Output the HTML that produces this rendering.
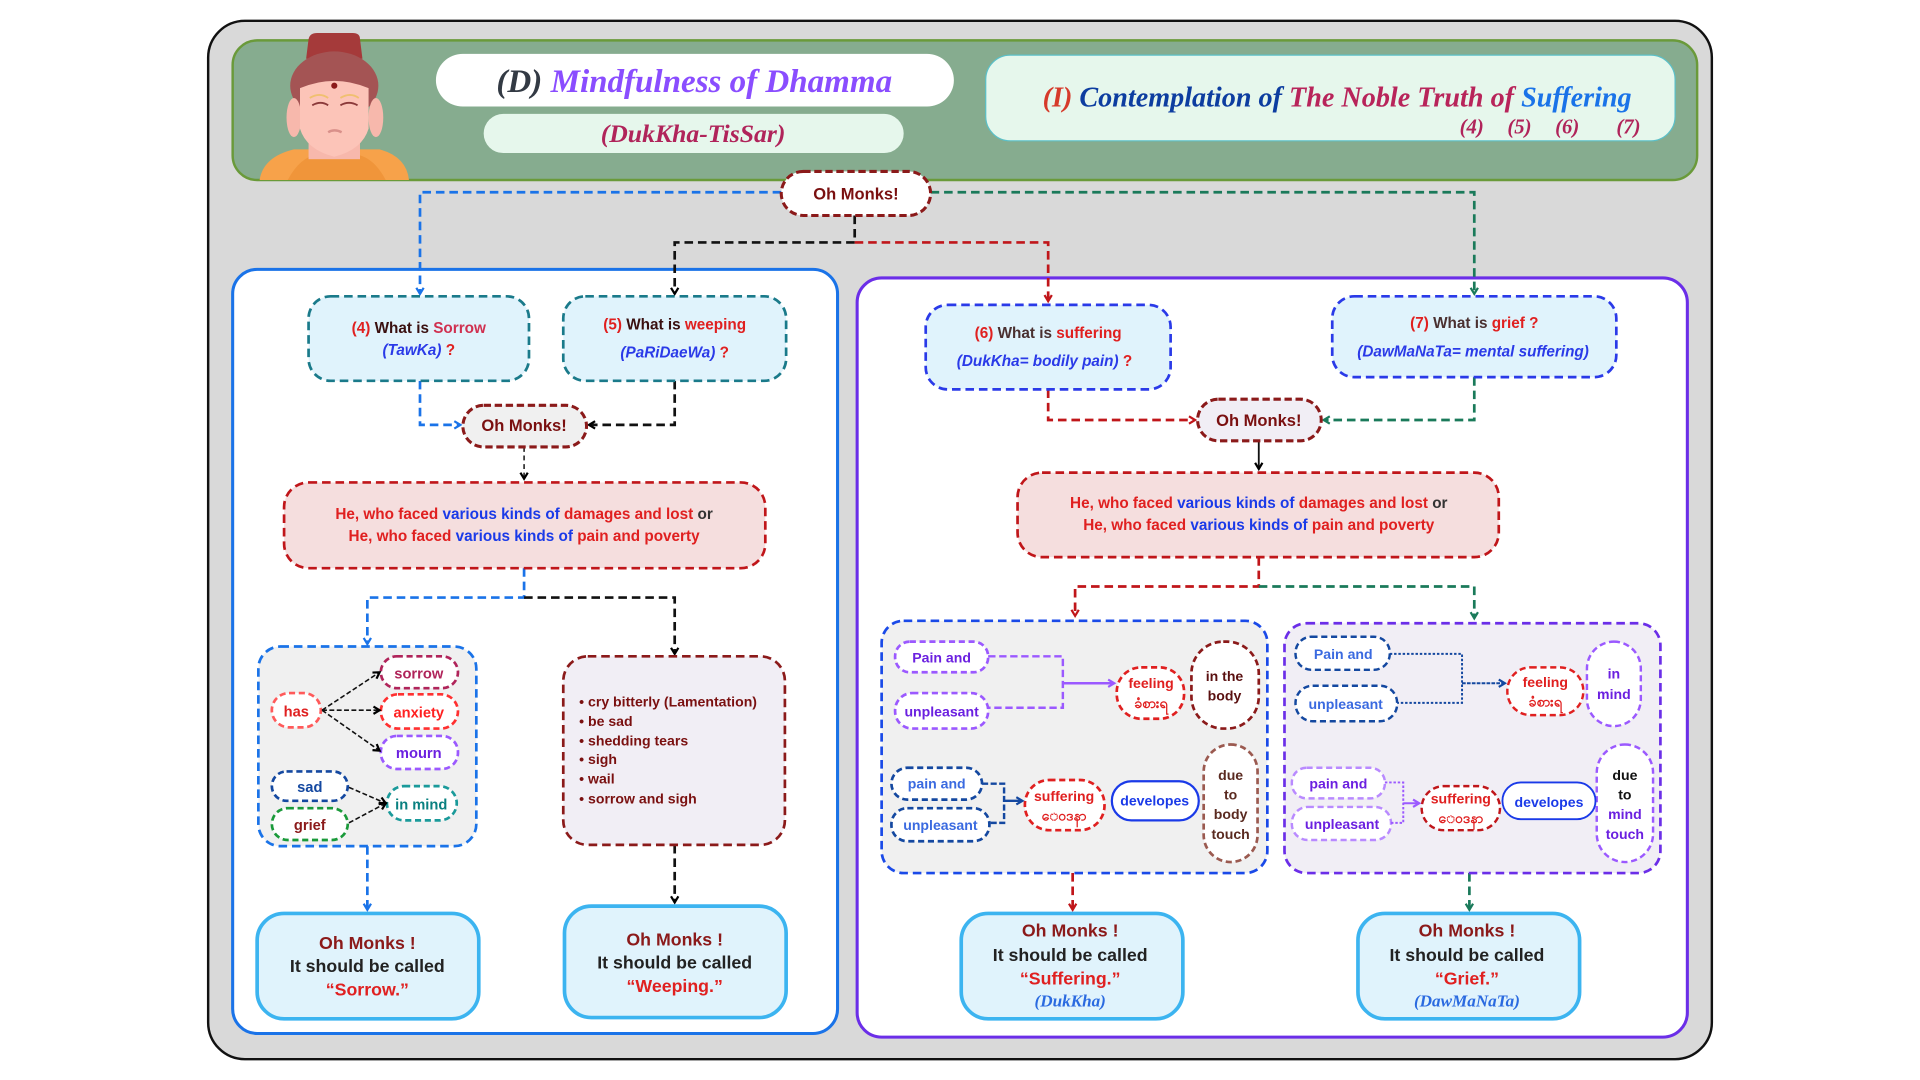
<!DOCTYPE html>
<html><head><meta charset="utf-8"><style>
html,body{margin:0;padding:0;background:#fff;width:1920px;height:1080px;overflow:hidden}
svg{display:block}
text{font-family:"Liberation Sans",sans-serif;font-weight:bold}
.s{font-family:"Liberation Serif",serif;font-style:italic;font-weight:bold}
</style></head><body>
<svg width="1920" height="1080" viewBox="0 0 1568 882" xmlns="http://www.w3.org/2000/svg">
<defs>
<marker id="ab" markerWidth="8" markerHeight="8" refX="6" refY="4" orient="auto" markerUnits="userSpaceOnUse"><path d="M1,1 L6,4 L1,7" fill="none" stroke="#1a73e8" stroke-width="1.8"/></marker>
<marker id="ak" markerWidth="8" markerHeight="8" refX="6" refY="4" orient="auto" markerUnits="userSpaceOnUse"><path d="M1,1 L6,4 L1,7" fill="none" stroke="#000" stroke-width="1.8"/></marker>
<marker id="ar" markerWidth="8" markerHeight="8" refX="6" refY="4" orient="auto" markerUnits="userSpaceOnUse"><path d="M1,1 L6,4 L1,7" fill="none" stroke="#c0161a" stroke-width="1.8"/></marker>
<marker id="ag" markerWidth="8" markerHeight="8" refX="6" refY="4" orient="auto" markerUnits="userSpaceOnUse"><path d="M1,1 L6,4 L1,7" fill="none" stroke="#1a7a5a" stroke-width="1.8"/></marker>
<marker id="ap" markerWidth="8" markerHeight="8" refX="6" refY="4" orient="auto" markerUnits="userSpaceOnUse"><path d="M1,1 L6,4 L1,7" fill="none" stroke="#9b59ff" stroke-width="1.8"/></marker>
<marker id="ad" markerWidth="8" markerHeight="8" refX="6" refY="4" orient="auto" markerUnits="userSpaceOnUse"><path d="M1,1 L6,4 L1,7" fill="none" stroke="#1448a0" stroke-width="1.8"/></marker>
</defs>
<rect x="170" y="17" width="1228" height="848" rx="30" fill="#d9d9d9" stroke="#111" stroke-width="2"/>
<rect x="190" y="33" width="1196" height="114" rx="20" fill="#86ac8f" stroke="#6a9a3a" stroke-width="2"/>
<!-- buddha -->
<path d="M212,147 Q215,128 240,122 L310,122 Q332,128 334,147 Z" fill="#f7a24a"/>
<path d="M235,147 Q245,128 260,126 L290,126 Q305,128 315,147 Z" fill="#f0953a"/>
<path d="M252,32 Q253,27 259,27 L288,27 Q294,27 294,32 L296,48 L250,48 Z" fill="#a53a3a"/>
<ellipse cx="273" cy="70" rx="36" ry="28" fill="#a45454"/>
<rect x="252" y="100" width="42" height="30" fill="#f7b8ac"/>
<ellipse cx="240" cy="96" rx="6" ry="16" fill="#f7b8ac"/>
<ellipse cx="307" cy="96" rx="6" ry="16" fill="#f7b8ac"/>
<path d="M245,72 Q273,60 301,72 L301,105 Q296,122 273,128 Q250,122 245,105 Z" fill="#fcc4b8"/>
<circle cx="273" cy="70" r="2.5" fill="#8b1a1a"/>
<path d="M255,86 Q262,82 268,86 M278,86 Q285,82 292,86" stroke="#8b3a3a" stroke-width="1.5" fill="none"/>
<path d="M253,80 Q261,75 268,80 M278,80 Q286,75 293,80" stroke="#f0c070" stroke-width="1.5" fill="none"/>
<path d="M268,108 Q273,105 279,108" stroke="#d9908a" stroke-width="2" fill="none"/>
<!-- titles -->
<rect x="356" y="44" width="423" height="43" rx="22" fill="#fff"/>
<text x="567" y="75" text-anchor="middle" class="s" font-size="27"><tspan fill="#333a44">(D) </tspan><tspan fill="#8a4dff">Mindfulness of Dhamma</tspan></text>
<rect x="395" y="93" width="343" height="32" rx="16" fill="#e6f7ec"/>
<text x="566" y="116" text-anchor="middle" class="s" font-size="21" fill="#b0245a">(DukKha-TisSar)</text>
<rect x="805" y="45" width="563" height="70" rx="20" fill="#e6f7ec" stroke="#5bc0c8" stroke-width="1"/>
<text x="1092" y="87" text-anchor="middle" class="s" font-size="23"><tspan fill="#d63a2a">(I) </tspan><tspan fill="#0d3da0">Contemplation of </tspan><tspan fill="#b8245a">The Noble Truth of </tspan><tspan fill="#1a73e8">Suffering</tspan></text>
<g class="s" font-size="17" fill="#b0245a">
<text x="1192" y="109" class="s">(4)</text><text x="1231" y="109" class="s">(5)</text><text x="1270" y="109" class="s">(6)</text><text x="1320" y="109" class="s">(7)</text>
</g>
<!-- panels -->
<rect x="190" y="220" width="494" height="624" rx="20" fill="#fff" stroke="#1a73e8" stroke-width="2.5"/>
<rect x="700" y="227" width="678" height="620" rx="20" fill="#fff" stroke="#6b2ee8" stroke-width="2.5"/>
<!-- top connectors -->
<g fill="none" stroke-width="2.2" stroke-dasharray="7,4">
<path d="M638,157 H343 V240" stroke="#1a73e8" marker-end="url(#ab)"/>
<path d="M760,157 H1204 V240" stroke="#1a7a5a" marker-end="url(#ag)"/>
<path d="M698,176 V198 H551 V240" stroke="#111" marker-end="url(#ak)"/>
<path d="M698,198 H856 V246" stroke="#c0161a" marker-end="url(#ar)"/>
<path d="M343,311 V347 H376" stroke="#1a73e8" marker-end="url(#ab)"/>
<path d="M551,311 V347 H481" stroke="#111" marker-end="url(#ak)"/>
<path d="M856,318 V343 H976" stroke="#c0161a" marker-end="url(#ar)"/>
<path d="M1204,308 V343 H1081" stroke="#1a7a5a" marker-end="url(#ag)"/>
<path d="M428,464 V488 H300 V526" stroke="#1a73e8" marker-end="url(#ab)"/>
<path d="M428,488 H551 V534" stroke="#111" marker-end="url(#ak)"/>
<path d="M1028,455 V479 H878 V503" stroke="#c0161a" marker-end="url(#ar)"/>
<path d="M1028,479 H1204 V505" stroke="#1a7a5a" marker-end="url(#ag)"/>
<path d="M300,691 V743" stroke="#1a73e8" marker-end="url(#ab)"/>
<path d="M551,690 V737" stroke="#111" marker-end="url(#ak)"/>
<path d="M876,713 V743" stroke="#c0161a" marker-end="url(#ar)"/>
<path d="M1200,713 V743" stroke="#1a7a5a" marker-end="url(#ag)"/>
</g>
<path d="M428,365 V391" stroke="#111" stroke-width="1.2" stroke-dasharray="4,3" marker-end="url(#ak)"/>
<path d="M1028,360 V383" stroke="#111" stroke-width="1.5" marker-end="url(#ak)"/>
<!-- oh monks -->
<g stroke="#8b1a1a" stroke-width="2.5" stroke-dasharray="6,3">
<rect x="638" y="140" width="122" height="36" rx="18" fill="#fff"/>
<rect x="378" y="331" width="101" height="34" rx="17" fill="#f0f0f0"/>
<rect x="978" y="326" width="101" height="34" rx="17" fill="#f1eef5"/>
</g>
<g font-size="13.5" fill="#7a1010" text-anchor="middle">
<text x="699" y="163">Oh Monks!</text><text x="428" y="352">Oh Monks!</text><text x="1028" y="348">Oh Monks!</text>
</g>
<!-- question boxes -->
<g stroke-width="2.2" stroke-dasharray="7,4" fill="#e0f3fc">
<rect x="252" y="242" width="180" height="69" rx="18" stroke="#1a7a8a"/>
<rect x="460" y="242" width="182" height="69" rx="18" stroke="#1a7a8a"/>
<rect x="756" y="249" width="200" height="69" rx="18" stroke="#2a3ae8"/>
<rect x="1088" y="242" width="232" height="66" rx="18" stroke="#2a3ae8"/>
</g>
<g font-size="12.5" text-anchor="middle">
<text x="342" y="272"><tspan fill="#e02020">(4)  </tspan><tspan fill="#3a1010">What is </tspan><tspan fill="#d03050">Sorrow</tspan></text>
<text x="342" y="290" fill="#2a3ae8" font-style="italic">(TawKa) <tspan fill="#e02020" font-style="normal">?</tspan></text>
<text x="551" y="269"><tspan fill="#e02020">(5)  </tspan><tspan fill="#3a1010">What is </tspan><tspan fill="#e02020">weeping</tspan></text>
<text x="551" y="292" fill="#2a3ae8" font-style="italic">(PaRiDaeWa) <tspan fill="#e02020" font-style="normal">?</tspan></text>
<text x="856" y="276"><tspan fill="#e02020">(6)  </tspan><tspan fill="#4a3030">What is </tspan><tspan fill="#e02020">suffering</tspan></text>
<text x="853" y="299" fill="#2a3ae8" font-style="italic">(DukKha= bodily pain) <tspan fill="#e02020" font-style="normal">?</tspan></text>
<text x="1204" y="268"><tspan fill="#e02020">(7)  </tspan><tspan fill="#4a3030">What is </tspan><tspan fill="#e02020">grief ?</tspan></text>
<text x="1203" y="291" fill="#2a3ae8" font-style="italic">(DawMaNaTa= mental suffering)</text>
</g>
<!-- pink -->
<g stroke="#c0161a" stroke-width="2.2" stroke-dasharray="7,4" fill="#f5dede">
<rect x="232" y="394" width="393" height="70" rx="20"/>
<rect x="831" y="386" width="393" height="69" rx="20"/>
</g>
<g font-size="12.5" text-anchor="middle" fill="#e02020">
<text x="428" y="424">He, who faced <tspan fill="#1a3ae8">various kinds of</tspan> damages and lost  <tspan fill="#333">or</tspan></text>
<text x="428" y="442">He, who  faced <tspan fill="#1a3ae8">various kinds of</tspan> pain and poverty</text>
<text x="1028" y="415">He, who faced <tspan fill="#1a3ae8">various kinds of</tspan> damages and lost  <tspan fill="#333">or</tspan></text>
<text x="1028" y="433">He, who  faced <tspan fill="#1a3ae8">various kinds of</tspan> pain and poverty</text>
</g>
<!-- group L1 -->
<rect x="211" y="528" width="178" height="163" rx="18" fill="#f0f0f0" stroke="#1a73e8" stroke-width="2.2" stroke-dasharray="7,4"/>
<g fill="#fff" stroke-width="2.2" stroke-dasharray="5,3">
<rect x="222" y="566" width="40" height="28" rx="14" stroke="#ff5a5a"/>
<rect x="311" y="536" width="63" height="26" rx="13" stroke="#b0245a"/>
<rect x="311" y="567" width="63" height="28" rx="14" stroke="#ff3030"/>
<rect x="311" y="601" width="63" height="27" rx="13" stroke="#9b59ff"/>
<rect x="222" y="630" width="62" height="24" rx="12" stroke="#1448a0"/>
<rect x="222" y="660" width="62" height="26" rx="13" stroke="#1a9a3a"/>
<rect x="316" y="642" width="57" height="28" rx="14" stroke="#1a9a9a"/>
</g>
<g stroke="#111" stroke-width="1.3" stroke-dasharray="4,2" fill="none" marker-end="url(#ak)">
<path d="M263,580 L310,549"/><path d="M263,580 L310,580"/><path d="M263,580 L310,613"/>
<path d="M285,643 L315,656"/><path d="M285,672 L315,656"/>
</g>
<g font-size="12" text-anchor="middle">
<text x="242" y="585" fill="#e02020">has</text>
<text x="342" y="554" fill="#b0245a">sorrow</text>
<text x="342" y="586" fill="#ff2020">anxiety</text>
<text x="342" y="619" fill="#6b20e0">mourn</text>
<text x="253" y="647" fill="#1448a0">sad</text>
<text x="253" y="678" fill="#8b1a1a">grief</text>
<text x="344" y="661" fill="#0a8080">in mind</text>
</g>
<!-- list box -->
<rect x="460" y="536" width="181" height="154" rx="20" fill="#f1eef5" stroke="#8b1a1a" stroke-width="2.2" stroke-dasharray="7,4"/>
<g font-size="11.5" fill="#7a1010">
<text x="473" y="577">•  cry bitterly (Lamentation)</text>
<text x="473" y="593">•  be sad</text>
<text x="473" y="609">•  shedding tears</text>
<text x="473" y="624">•  sigh</text>
<text x="473" y="640">•  wail</text>
<text x="473" y="656">•  sorrow and sigh</text>
</g>
<!-- group R1 -->
<rect x="720" y="507" width="315" height="206" rx="18" fill="#f0f0f0" stroke="#1a4ae8" stroke-width="2.2" stroke-dasharray="7,4"/>
<g fill="#fff" stroke-width="2.2" stroke-dasharray="5,3">
<rect x="731" y="524" width="76" height="25" rx="12" stroke="#9b59ff"/>
<rect x="731" y="566" width="76" height="29" rx="14" stroke="#9b59ff"/>
<rect x="912" y="545" width="55" height="42" rx="20" stroke="#e02020"/>
<rect x="973" y="524" width="55" height="71" rx="26" stroke="#8b1a1a"/>
<rect x="728" y="627" width="74" height="26" rx="13" stroke="#1448a0"/>
<rect x="728" y="660" width="80" height="27" rx="13" stroke="#1448a0"/>
<rect x="837" y="637" width="65" height="41" rx="20" stroke="#e02020"/>
<rect x="983" y="608" width="44" height="96" rx="22" stroke="#9b5a50"/>
</g>
<rect x="908" y="638" width="71" height="32" rx="16" fill="#fff" stroke="#1a3ae8" stroke-width="1.8"/>
<g fill="none" stroke-width="2">
<path d="M807,536 H868 V578 H807" stroke="#9b59ff" stroke-dasharray="6,3"/>
<path d="M868,558 H910" stroke="#9b59ff" marker-end="url(#ap)"/>
<path d="M802,640 H820 V672 H808" stroke="#1448a0" stroke-dasharray="5,2"/>
<path d="M820,654 H835" stroke="#1448a0" marker-end="url(#ad)"/>
</g>
<g font-size="11.5" text-anchor="middle">
<text x="769" y="541" fill="#6b20e0">Pain and</text>
<text x="769" y="585" fill="#6b20e0">unpleasant</text>
<text x="940" y="562" fill="#e02020">feeling</text>
<text x="940" y="578" fill="#e02020">ခံစားရ</text>
<text x="1000" y="556" fill="#5a1010">in the</text>
<text x="1000" y="572" fill="#5a1010">body</text>
<text x="765" y="644" fill="#3a6ae0">pain and</text>
<text x="768" y="678" fill="#3a6ae0">unpleasant</text>
<text x="869" y="654" fill="#e02020">suffering</text>
<text x="869" y="670" fill="#e02020">ေဝဒနာ</text>
<text x="943" y="658" fill="#1a3ae8">developes</text>
<text x="1005" y="637" fill="#5a2a20">due</text>
<text x="1005" y="653" fill="#5a2a20">to</text>
<text x="1005" y="669" fill="#5a2a20">body</text>
<text x="1005" y="685" fill="#5a2a20">touch</text>
</g>
<!-- group R2 -->
<rect x="1049" y="509" width="307" height="204" rx="18" fill="#f1eef5" stroke="#6b2ee8" stroke-width="2.2" stroke-dasharray="7,4"/>
<g fill="#fff" stroke-width="2" stroke-dasharray="5,3">
<rect x="1058" y="520" width="77" height="27" rx="13" stroke="#1448a0"/>
<rect x="1058" y="560" width="83" height="29" rx="14" stroke="#1448a0"/>
<rect x="1231" y="545" width="62" height="39" rx="19" stroke="#e02020"/>
<rect x="1296" y="524" width="44" height="69" rx="22" stroke="#9b59ff"/>
<rect x="1055" y="627" width="76" height="25" rx="12" stroke="#b98aff"/>
<rect x="1055" y="659" width="81" height="27" rx="13" stroke="#b98aff"/>
<rect x="1161" y="642" width="64" height="36" rx="18" stroke="#c0161a"/>
<rect x="1304" y="608" width="46" height="96" rx="23" stroke="#9b59ff"/>
</g>
<rect x="1227" y="639" width="76" height="30" rx="15" fill="#fff" stroke="#1a3ae8" stroke-width="1.5"/>
<g fill="none" stroke-width="1.6">
<path d="M1135,534 H1194 V574 H1141" stroke="#1448a0" stroke-dasharray="2,1.5"/>
<path d="M1194,558 H1229" stroke="#1448a0" stroke-dasharray="3,1" marker-end="url(#ad)"/>
<path d="M1131,639 H1146 V672 H1136" stroke="#9b59ff" stroke-dasharray="2,1.5"/>
<path d="M1146,656 H1159" stroke="#9b59ff" marker-end="url(#ap)"/>
</g>
<g font-size="11.5" text-anchor="middle">
<text x="1097" y="538" fill="#3a6ae0">Pain and</text>
<text x="1099" y="579" fill="#3a6ae0">unpleasant</text>
<text x="1262" y="561" fill="#e02020">feeling</text>
<text x="1262" y="577" fill="#e02020">ခံစားရ</text>
<text x="1318" y="554" fill="#6b20e0">in</text>
<text x="1318" y="571" fill="#6b20e0">mind</text>
<text x="1093" y="644" fill="#6b20e0">pain and</text>
<text x="1096" y="677" fill="#6b20e0">unpleasant</text>
<text x="1193" y="656" fill="#e02020">suffering</text>
<text x="1193" y="672" fill="#e02020">ေဝဒနာ</text>
<text x="1265" y="659" fill="#1a3ae8">developes</text>
<text x="1327" y="637" fill="#111">due</text>
<text x="1327" y="653" fill="#111">to</text>
<text x="1327" y="669" fill="#6b20e0">mind</text>
<text x="1327" y="685" fill="#6b20e0">touch</text>
</g>
<!-- finals -->
<g fill="#e0f3fc" stroke="#3cb4f0" stroke-width="3">
<rect x="210" y="746" width="181" height="86" rx="22"/>
<rect x="461" y="740" width="181" height="91" rx="22"/>
<rect x="785" y="746" width="181" height="86" rx="22"/>
<rect x="1109" y="746" width="181" height="86" rx="22"/>
</g>
<g font-size="14.5" text-anchor="middle">
<text x="300" y="775" fill="#8b1a1a">Oh Monks !</text>
<text x="300" y="794" fill="#222">It should be called</text>
<text x="300" y="813" fill="#e02020">“Sorrow.”</text>
<text x="551" y="772" fill="#8b1a1a">Oh Monks !</text>
<text x="551" y="791" fill="#222">It should be called</text>
<text x="551" y="810" fill="#e02020">“Weeping.”</text>
<text x="874" y="765" fill="#8b1a1a">Oh Monks !</text>
<text x="874" y="785" fill="#222">It should be called</text>
<text x="874" y="804" fill="#e02020">“Suffering.”</text>
<text x="874" y="822" fill="#2a6ae0" class="s" font-weight="normal" font-size="14">(DukKha)</text>
<text x="1198" y="765" fill="#8b1a1a">Oh Monks !</text>
<text x="1198" y="785" fill="#222">It should be called</text>
<text x="1198" y="804" fill="#e02020">“Grief.”</text>
<text x="1198" y="822" fill="#2a6ae0" class="s" font-weight="normal" font-size="14">(DawMaNaTa)</text>
</g>
</svg>
</body></html>
